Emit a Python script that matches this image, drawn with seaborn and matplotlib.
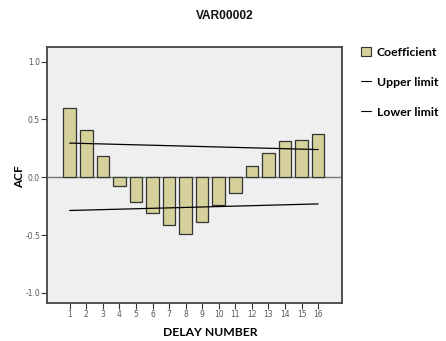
import numpy as np
import pandas as pd
import matplotlib
matplotlib.use("Agg")
import matplotlib.pyplot as plt
from matplotlib.patches import Patch
from matplotlib.lines import Line2D
import seaborn as sns

lags = list(range(1, 17))
acf = [0.60, 0.41, 0.18, -0.075, -0.21, -0.31, -0.41, -0.49,
       -0.39, -0.24, -0.135, 0.10, 0.21, 0.31, 0.325, 0.375]
limit_lags = [1, 16]
upper_limit = [0.296, 0.240]
lower_limit = [-0.287, -0.230]
y_ticks = [-1.0, -0.5, 0.0, 0.5, 1.0]

bar_color = "#d6d09a"
df = pd.DataFrame({"lag": lags, "acf": acf})

sns.set_style("white")
plt.rcParams["text.color"] = "black"
fig = plt.figure(figsize=(4.46, 3.41), dpi=100)
ax = fig.add_axes([47 / 446, 1 - 303 / 341, 295 / 446, 256 / 341])
ax.set_facecolor("#efefef")

# numeric x so the bars sit at the lag values
ax.bar(df["lag"], df["acf"], width=0.76, color=bar_color,
       edgecolor="#333333", linewidth=0.9, zorder=3)
sns.lineplot(x=limit_lags, y=upper_limit, ax=ax, color="black", lw=0.9, zorder=4)
sns.lineplot(x=limit_lags, y=lower_limit, ax=ax, color="black", lw=0.9, zorder=4)
ax.axhline(0, color="#777777", lw=1.0, zorder=2)

ax.set_xlim(-0.37, 17.44)
ax.set_ylim(-1.087, 1.127)
ax.set_xticks(lags)
ax.set_xticklabels([str(l) for l in lags])
ax.set_yticks(y_ticks)
ax.set_yticklabels([f"{v:.1f}" for v in y_ticks])
ax.tick_params(axis="both", labelsize=5.5, labelcolor="#555555", length=4,
               width=0.8, color="#333333", direction="out", pad=1)
ax.tick_params(axis="x", bottom=True)
ax.tick_params(axis="y", left=True)
for s in ax.spines.values():
    s.set_color("#444444")
    s.set_linewidth(1.3)
ax.set_xlabel("")
ax.set_ylabel("")

fig.text(225 / 446, 1 - 16 / 341, "VAR00002", ha="center", va="center",
         fontsize=8.6, fontweight="bold", family="Liberation Sans", color="#111111")
fig.text(20 / 446, 1 - 177 / 341, "ACF", ha="center", va="center",
         rotation=90, fontsize=8.5, fontweight="bold", family="Lato", color="black")
fig.text(210 / 446, 1 - 333 / 341, "DELAY NUMBER", ha="center", va="center",
         fontsize=8.7, fontweight="bold", family="Lato", color="black")

handles = [Patch(facecolor=bar_color, edgecolor="#333333", linewidth=0.8),
           Line2D([], [], color="black", lw=0.8),
           Line2D([], [], color="black", lw=0.8)]
leg = fig.legend(handles, ["Coefficient", "Upper limit", "Lower limit"],
                 loc="upper left", bbox_to_anchor=(350 / 446, 1 - 36 / 341),
                 frameon=False, handlelength=0.8, handleheight=0.8, handletextpad=0.5,
                 labelspacing=1.55, prop={"family": "Lato", "weight": "bold", "size": 8.8})
for t in leg.get_texts():
    t.set_color("black")

fig.savefig("out.png", dpi=100)
